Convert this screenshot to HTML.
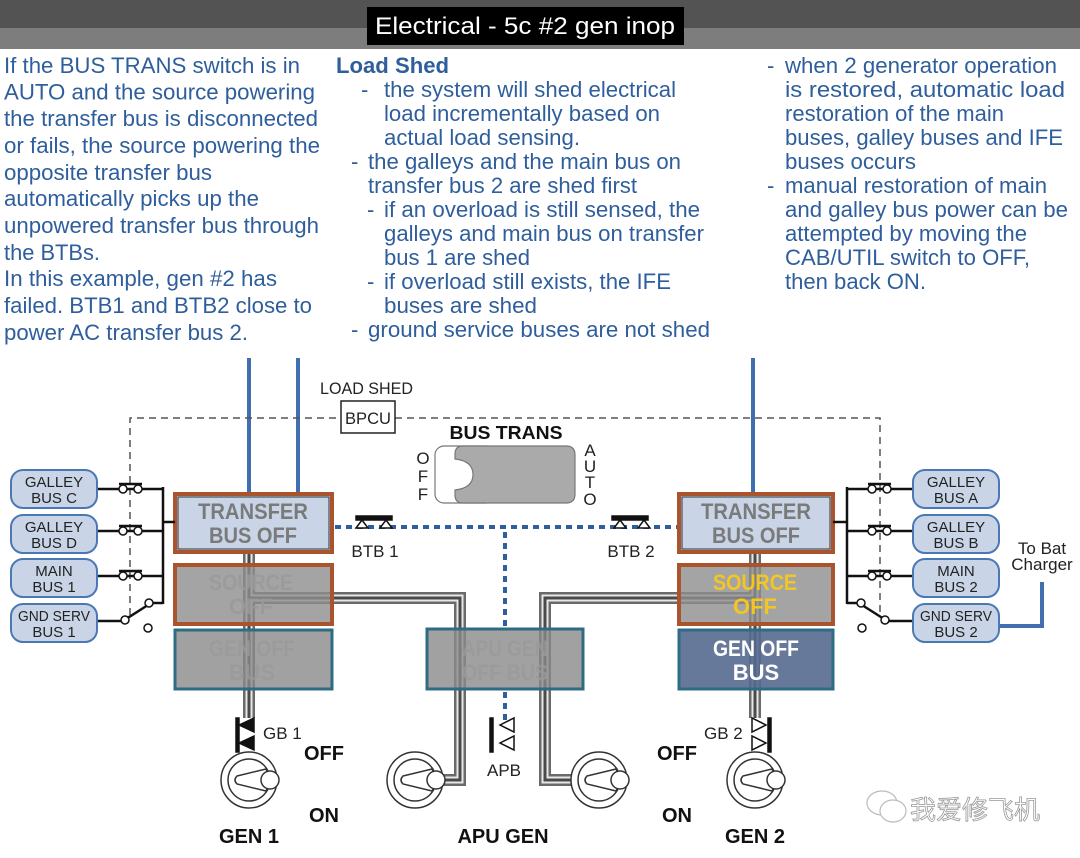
<!DOCTYPE html>
<html><head><meta charset="utf-8"><style>
html,body{margin:0;padding:0;background:#fff}
svg{display:block}
.t{font-family:"Liberation Sans",sans-serif;font-size:22px;fill:#2f5e9c}
.d{font-family:"Liberation Sans",sans-serif}
</style></head><body>
<svg width="1080" height="858" viewBox="0 0 1080 858" xmlns="http://www.w3.org/2000/svg">
<rect x="0" y="0" width="1080" height="28" fill="#535353"/>
<rect x="0" y="28" width="1080" height="21" fill="#7d7d7d"/>
<rect x="367" y="7" width="317" height="38" fill="#000"/>
<text x="525" y="34" text-anchor="middle" class="d" font-size="24" fill="#fff" textLength="300" lengthAdjust="spacingAndGlyphs">Electrical - 5c #2 gen inop</text>

<g class="t">
<text x="4" y="73" textLength="296" lengthAdjust="spacingAndGlyphs">If the BUS TRANS switch is in</text>
<text x="4" y="99.5" textLength="311" lengthAdjust="spacingAndGlyphs">AUTO and the source powering</text>
<text x="4" y="126" textLength="314" lengthAdjust="spacingAndGlyphs">the transfer bus is disconnected</text>
<text x="4" y="153" textLength="316" lengthAdjust="spacingAndGlyphs">or fails, the source powering the</text>
<text x="4" y="180" textLength="208" lengthAdjust="spacingAndGlyphs">opposite transfer bus</text>
<text x="4" y="206" textLength="255" lengthAdjust="spacingAndGlyphs">automatically picks up the</text>
<text x="4" y="233" textLength="315" lengthAdjust="spacingAndGlyphs">unpowered transfer bus through</text>
<text x="4" y="260" textLength="96" lengthAdjust="spacingAndGlyphs">the BTBs.</text>
<text x="4" y="286" textLength="273" lengthAdjust="spacingAndGlyphs">In this example, gen #2 has</text>
<text x="4" y="313" textLength="308" lengthAdjust="spacingAndGlyphs">failed. BTB1 and BTB2 close to</text>
<text x="4" y="340" textLength="244" lengthAdjust="spacingAndGlyphs">power AC transfer bus 2.</text>

<text x="336" y="73" font-weight="bold" textLength="113" lengthAdjust="spacingAndGlyphs">Load Shed</text>
<text x="361" y="97">-</text>
<text x="384" y="97" textLength="292" lengthAdjust="spacingAndGlyphs">the system will shed electrical</text>
<text x="384" y="121" textLength="276" lengthAdjust="spacingAndGlyphs">load incrementally based on</text>
<text x="384" y="145" textLength="196" lengthAdjust="spacingAndGlyphs">actual load sensing.</text>
<text x="351" y="169">-</text>
<text x="368" y="169" textLength="313" lengthAdjust="spacingAndGlyphs">the galleys and the main bus on</text>
<text x="368" y="193" textLength="269" lengthAdjust="spacingAndGlyphs">transfer bus 2 are shed first</text>
<text x="367" y="217">-</text>
<text x="384" y="217" textLength="316" lengthAdjust="spacingAndGlyphs">if an overload is still sensed, the</text>
<text x="384" y="241" textLength="320" lengthAdjust="spacingAndGlyphs">galleys and main bus on transfer</text>
<text x="384" y="265" textLength="146" lengthAdjust="spacingAndGlyphs">bus 1 are shed</text>
<text x="367" y="289">-</text>
<text x="384" y="289" textLength="287" lengthAdjust="spacingAndGlyphs">if overload still exists, the IFE</text>
<text x="384" y="313" textLength="153" lengthAdjust="spacingAndGlyphs">buses are shed</text>
<text x="351" y="337">-</text>
<text x="368" y="337" textLength="342" lengthAdjust="spacingAndGlyphs">ground service buses are not shed</text>

<text x="767" y="73">-</text>
<text x="785" y="73" textLength="272" lengthAdjust="spacingAndGlyphs">when 2 generator operation</text>
<text x="785" y="97" textLength="280" lengthAdjust="spacingAndGlyphs">is restored, automatic load</text>
<text x="785" y="121" textLength="219" lengthAdjust="spacingAndGlyphs">restoration of the main</text>
<text x="785" y="145" textLength="278" lengthAdjust="spacingAndGlyphs">buses, galley buses and IFE</text>
<text x="785" y="169" textLength="131" lengthAdjust="spacingAndGlyphs">buses occurs</text>
<text x="767" y="193">-</text>
<text x="785" y="193" textLength="262" lengthAdjust="spacingAndGlyphs">manual restoration of main</text>
<text x="785" y="217" textLength="283" lengthAdjust="spacingAndGlyphs">and galley bus power can be</text>
<text x="785" y="241" textLength="242" lengthAdjust="spacingAndGlyphs">attempted by moving the</text>
<text x="785" y="265" textLength="245" lengthAdjust="spacingAndGlyphs">CAB/UTIL switch to OFF,</text>
<text x="785" y="289" textLength="141" lengthAdjust="spacingAndGlyphs">then back ON.</text>
</g>

<g stroke="#3f6fae" stroke-width="4" fill="none">
<line x1="249" y1="358" x2="249" y2="492"/>
<line x1="298" y1="358" x2="298" y2="492"/>
<line x1="753" y1="358" x2="753" y2="492"/>
<polyline points="1042,582 1042,626 976,626"/>
</g>

<g stroke="#555" stroke-width="1.5" stroke-dasharray="7,5" fill="none">
<polyline points="130,615 130,418 341,418"/>
<polyline points="395,418 880,418 880,615"/>
</g>
<text x="320" y="394" class="d" font-size="17" fill="#222" textLength="93" lengthAdjust="spacingAndGlyphs">LOAD SHED</text>
<rect x="341" y="401" width="54" height="32" fill="#fff" stroke="#222" stroke-width="1.5"/>
<text x="368" y="424" text-anchor="middle" class="d" font-size="17" fill="#222" textLength="46" lengthAdjust="spacingAndGlyphs">BPCU</text>

<text x="506" y="439" text-anchor="middle" class="d" font-size="18" font-weight="bold" fill="#111" textLength="113" lengthAdjust="spacingAndGlyphs">BUS TRANS</text>
<rect x="435" y="446" width="60" height="57" rx="9" fill="#fff" stroke="#777" stroke-width="1.2"/>
<path d="M463,446 H566 Q575,446 575,455 V494 Q575,503 566,503 H463 Q455,503 455,495 V490 Q473,488 473,474.5 Q473,461 455,459 V454 Q455,446 463,446 Z" fill="#aaa" stroke="#777" stroke-width="1.2"/>
<g class="d" font-size="17" fill="#222" text-anchor="middle">
<text x="423" y="464">O</text><text x="423" y="482">F</text><text x="423" y="500">F</text>
<text x="590" y="456">A</text><text x="590" y="472">U</text><text x="590" y="488">T</text><text x="590" y="505">O</text>
</g>

<g stroke="#2f5e9c" stroke-width="4" stroke-dasharray="6,5" fill="none">
<line x1="335" y1="527" x2="678" y2="527"/>
<line x1="505" y1="532" x2="505" y2="628"/>
<line x1="505" y1="692" x2="505" y2="720"/>
</g>
<g fill="#fff" stroke="#111" stroke-width="1.5">
<rect x="356" y="516" width="36" height="4" fill="#111"/>
<path d="M356,528 L362,520 L368,528 Z"/><path d="M380,528 L386,520 L392,528 Z"/>
<rect x="612" y="516" width="36" height="4" fill="#111"/>
<path d="M614,528 L620,520 L626,528 Z"/><path d="M638,528 L644,520 L650,528 Z"/>
</g>
<text x="375" y="557" text-anchor="middle" class="d" font-size="17" fill="#222">BTB 1</text>
<text x="631" y="557" text-anchor="middle" class="d" font-size="17" fill="#222">BTB 2</text>

<!-- gray wires (under boxes) -->
<g fill="none">
<g stroke="#6a6a6a" stroke-width="12">
<polyline points="249,553 249,718"/><polyline points="755,553 755,718"/>
<polyline points="250,598 460,598 460,780 440,780"/>
<polyline points="755,598 545,598 545,780 573,780"/>
</g>
<g stroke="#e8e8e8" stroke-width="7">
<polyline points="249,553 249,718"/><polyline points="755,553 755,718"/>
<polyline points="250,598 460,598 460,780 440,780"/>
<polyline points="755,598 545,598 545,780 573,780"/>
</g>
<g stroke="#4a4a4a" stroke-width="3">
<polyline points="249,553 249,718"/><polyline points="755,553 755,718"/>
<polyline points="250,598 460,598 460,780 440,780"/>
<polyline points="755,598 545,598 545,780 573,780"/>
</g>
</g>

<rect x="175" y="494" width="157" height="58" fill="#c9d5e7" stroke="#a9542c" stroke-width="4"/>
<rect x="178" y="497" width="151" height="52" fill="none" stroke="#333" stroke-width="1"/>
<rect x="175" y="565" width="157" height="59" fill="#8d8d8d" fill-opacity="0.8" stroke="#a9542c" stroke-width="4"/>
<rect x="175" y="630" width="157" height="59" fill="#8a8a8a" fill-opacity="0.8" stroke="#2d6c82" stroke-width="3"/>
<rect x="679" y="494" width="154" height="58" fill="#c9d5e7" stroke="#a9542c" stroke-width="4"/>
<rect x="682" y="497" width="148" height="52" fill="none" stroke="#333" stroke-width="1"/>
<rect x="679" y="565" width="154" height="59" fill="#8d8d8d" fill-opacity="0.8" stroke="#a9542c" stroke-width="4"/>
<rect x="679" y="630" width="154" height="59" fill="#566a90" fill-opacity="0.9" stroke="#2d6c82" stroke-width="3"/>
<rect x="427" y="629" width="156" height="60" fill="#8a8a8a" fill-opacity="0.8" stroke="#2d6c82" stroke-width="3"/>

<g class="d" font-weight="bold" text-anchor="middle" font-size="22">
<text x="253" y="519" fill="#7a7a7a" textLength="110" lengthAdjust="spacingAndGlyphs">TRANSFER</text>
<text x="253" y="543" fill="#7a7a7a" textLength="88" lengthAdjust="spacingAndGlyphs">BUS OFF</text>
<text x="756" y="519" fill="#7a7a7a" textLength="110" lengthAdjust="spacingAndGlyphs">TRANSFER</text>
<text x="756" y="543" fill="#7a7a7a" textLength="88" lengthAdjust="spacingAndGlyphs">BUS OFF</text>
<text x="251" y="590" fill="#9a9a9a" opacity="0.8" textLength="84" lengthAdjust="spacingAndGlyphs">SOURCE</text>
<text x="251" y="614" fill="#9a9a9a" opacity="0.8">OFF</text>
<text x="755" y="590" fill="#f3c623" textLength="84" lengthAdjust="spacingAndGlyphs">SOURCE</text>
<text x="755" y="614" fill="#f3c623">OFF</text>
<text x="252" y="656" fill="#9a9a9a" opacity="0.8" textLength="86" lengthAdjust="spacingAndGlyphs">GEN OFF</text>
<text x="252" y="680" fill="#9a9a9a" opacity="0.8">BUS</text>
<text x="756" y="656" fill="#fff" textLength="86" lengthAdjust="spacingAndGlyphs">GEN OFF</text>
<text x="756" y="680" fill="#fff">BUS</text>
<text x="505" y="656" fill="#9a9a9a" opacity="0.8" textLength="86" lengthAdjust="spacingAndGlyphs">APU GEN</text>
<text x="505" y="680" fill="#9a9a9a" opacity="0.8" textLength="86" lengthAdjust="spacingAndGlyphs">OFF BUS</text>
</g>

<g stroke="#111" stroke-width="2.5" fill="none">
<line x1="97" y1="489" x2="163" y2="489"/>
<line x1="97" y1="531" x2="163" y2="531"/>
<line x1="97" y1="576" x2="163" y2="576"/>
<line x1="163" y1="487" x2="163" y2="604"/>
<line x1="163" y1="522" x2="175" y2="522"/>
<line x1="150" y1="603" x2="163" y2="603"/>
<line x1="97" y1="621" x2="122" y2="621"/>
<line x1="126" y1="619" x2="148" y2="605"/>
<line x1="119" y1="484" x2="142" y2="484"/><line x1="119" y1="526" x2="142" y2="526"/><line x1="119" y1="571" x2="142" y2="571"/>
<line x1="913" y1="489" x2="847" y2="489"/>
<line x1="913" y1="531" x2="847" y2="531"/>
<line x1="913" y1="576" x2="847" y2="576"/>
<line x1="847" y1="487" x2="847" y2="604"/>
<line x1="833" y1="522" x2="847" y2="522"/>
<line x1="847" y1="603" x2="860" y2="603"/>
<line x1="913" y1="621" x2="888" y2="621"/>
<line x1="862" y1="605" x2="884" y2="619"/>
<line x1="868" y1="484" x2="891" y2="484"/><line x1="868" y1="526" x2="891" y2="526"/><line x1="868" y1="571" x2="891" y2="571"/>
</g>
<g fill="#fff" stroke="#111" stroke-width="1.5">
<circle cx="123" cy="489" r="4"/><circle cx="138" cy="489" r="4"/>
<circle cx="123" cy="531" r="4"/><circle cx="138" cy="531" r="4"/>
<circle cx="123" cy="576" r="4"/><circle cx="138" cy="576" r="4"/>
<circle cx="125" cy="620" r="4"/><circle cx="149" cy="603" r="4"/><circle cx="148" cy="628" r="4"/>
<circle cx="872" cy="489" r="4"/><circle cx="887" cy="489" r="4"/>
<circle cx="872" cy="531" r="4"/><circle cx="887" cy="531" r="4"/>
<circle cx="872" cy="576" r="4"/><circle cx="887" cy="576" r="4"/>
<circle cx="885" cy="620" r="4"/><circle cx="861" cy="603" r="4"/><circle cx="862" cy="628" r="4"/>
</g>

<g fill="#c9d5e7" stroke="#4a78b4" stroke-width="2">
<rect x="11" y="470" width="86" height="38" rx="12"/>
<rect x="11" y="515" width="86" height="38" rx="12"/>
<rect x="11" y="559" width="86" height="38" rx="12"/>
<rect x="11" y="604" width="86" height="38" rx="12"/>
<rect x="913" y="470" width="86" height="38" rx="12"/>
<rect x="913" y="515" width="86" height="38" rx="12"/>
<rect x="913" y="559" width="86" height="38" rx="12"/>
<rect x="913" y="604" width="86" height="38" rx="12"/>
</g>
<g class="d" font-size="15" fill="#222" text-anchor="middle">
<text x="54" y="487">GALLEY</text><text x="54" y="503">BUS C</text>
<text x="54" y="532">GALLEY</text><text x="54" y="548">BUS D</text>
<text x="54" y="576">MAIN</text><text x="54" y="592">BUS 1</text>
<text x="54" y="621" textLength="72" lengthAdjust="spacingAndGlyphs">GND SERV</text><text x="54" y="637">BUS 1</text>
<text x="956" y="487">GALLEY</text><text x="956" y="503">BUS A</text>
<text x="956" y="532">GALLEY</text><text x="956" y="548">BUS B</text>
<text x="956" y="576">MAIN</text><text x="956" y="592">BUS 2</text>
<text x="956" y="621" textLength="72" lengthAdjust="spacingAndGlyphs">GND SERV</text><text x="956" y="637">BUS 2</text>
<text x="1042" y="554" font-size="17">To Bat</text>
<text x="1042" y="570" font-size="17">Charger</text>
</g>

<g fill="#111" stroke="#111" stroke-width="1.5">
<rect x="236" y="718" width="3" height="34"/>
<path d="M239,725 L254,718 L254,732 Z"/><path d="M239,743 L254,736 L254,750 Z"/>
<rect x="490" y="718" width="3" height="34"/>
<path d="M500,725 L514,718 L514,732 Z" fill="#fff"/><path d="M500,743 L514,736 L514,750 Z" fill="#fff"/>
<rect x="768" y="718" width="3" height="34"/>
<path d="M766,725 L752,718 L752,732 Z" fill="#fff"/><path d="M766,743 L752,736 L752,750 Z" fill="#fff"/>
</g>
<g class="d" font-size="17" fill="#222">
<text x="263" y="739">GB 1</text>
<text x="504" y="776" text-anchor="middle">APB</text>
<text x="704" y="739">GB 2</text>
</g>

<g id="tg" fill="#fff" stroke="#333" stroke-width="1.5">
<circle cx="249" cy="780" r="28"/><circle cx="249" cy="780" r="21"/>
<path d="M237,776 L266,769 Q272,780 266,791 L237,784 Q233,780 237,776 Z"/>
<circle cx="270" cy="780" r="9"/>
</g>
<use href="#tg" x="166"/>
<use href="#tg" x="350"/>
<use href="#tg" x="506"/>
<g class="d" font-weight="bold" fill="#111" text-anchor="middle" font-size="20">
<text x="324" y="760">OFF</text><text x="324" y="822">ON</text>
<text x="677" y="760">OFF</text><text x="677" y="822">ON</text>
<text x="249" y="843">GEN 1</text>
<text x="503" y="843">APU GEN</text>
<text x="755" y="843">GEN 2</text>
</g>

<g fill="#fff" stroke="#bbb" stroke-width="1.2">
<ellipse cx="882" cy="803" rx="15" ry="12"/>
<ellipse cx="893" cy="811" rx="13" ry="11"/>
</g>
<text x="910" y="819" font-family="'Liberation Sans','Noto Sans CJK SC',sans-serif" font-size="26" fill="#fff" stroke="#999" stroke-width="0.8">我爱修飞机</text>
</svg>
</body></html>
